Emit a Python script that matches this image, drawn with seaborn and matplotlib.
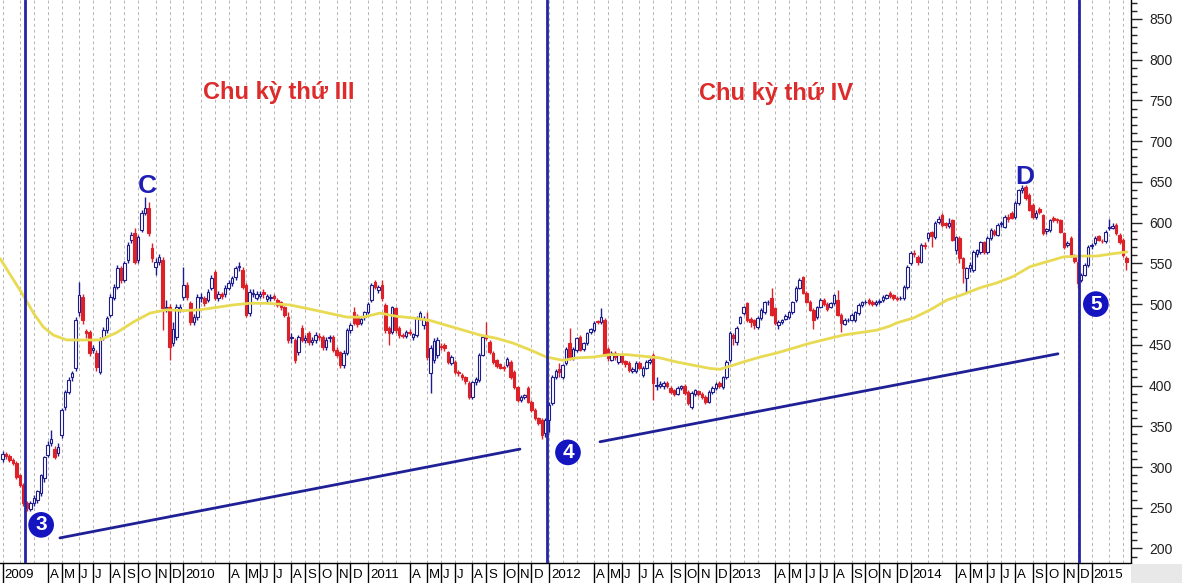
import numpy as np
import pandas as pd
import matplotlib
matplotlib.use('Agg')
import matplotlib.pyplot as plt
import matplotlib.transforms as mtransforms
from matplotlib.patches import Rectangle
from matplotlib.ticker import MultipleLocator
import seaborn as sns

# weekly candles, first week ending 2009-01-02
opens = [
    310, 316, 314, 309, 305, 290, 278, 256, 249, 256,
    260, 268, 286, 315, 330, 322, 317, 339, 374, 392,
    410, 421, 490, 509, 467, 466, 444, 440, 417, 460,
    468, 487, 508, 521, 544, 530, 554, 579, 587, 554,
    591, 612, 618, 569, 546, 552, 554, 495, 496, 452,
    460, 494, 509, 523, 501, 478, 484, 507, 507, 505,
    520, 539, 508, 512, 512, 520, 526, 533, 546, 542,
    523, 489, 513, 508, 510, 515, 506, 508, 510, 505,
    502, 496, 484, 458, 456, 441, 471, 456, 464, 454,
    456, 461, 460, 447, 458, 460, 444, 441, 425, 440,
    468, 490, 485, 477, 484, 490, 505, 527, 517, 523,
    499, 471, 466, 495, 471, 462, 461, 466, 460, 462,
    483, 474, 478, 415, 432, 437, 449, 450, 441, 428,
    429, 417, 413, 410, 403, 386, 404, 407, 438, 462,
    453, 440, 431, 426, 423, 425, 429, 417, 398, 382,
    386, 397, 380, 370, 360, 358, 342, 358, 379, 411,
    420, 411, 428, 452, 435, 444, 460, 445, 452, 466,
    468, 479, 478, 480, 445, 432, 440, 429, 438, 430,
    428, 418, 418, 428, 413, 422, 429, 437, 400, 400,
    400, 403, 397, 394, 390, 397, 400, 392, 374, 390,
    393, 390, 386, 380, 392, 397, 403, 398, 410, 431,
    462, 453, 477, 489, 501, 482, 480, 472, 483, 490,
    502, 507, 495, 474, 478, 482, 484, 490, 505, 520,
    533, 514, 503, 493, 484, 497, 505, 500, 497, 501,
    505, 487, 476, 480, 481, 480, 489, 499, 502, 505,
    503, 500, 502, 505, 508, 514, 511, 508, 507, 507,
    521, 550, 563, 558, 552, 573, 581, 588, 582, 601,
    609, 599, 596, 603, 566, 581, 556, 532, 544, 542,
    562, 564, 576, 564, 581, 590, 585, 598, 595, 607,
    612, 607, 624, 640, 644, 634, 622, 607, 617, 609,
    590, 591, 606, 604, 603, 587, 572, 581, 560, 552,
    530, 536, 548, 571, 575, 583, 578, 577, 593, 594,
    597, 585, 579, 557,
]
highs = [
    320, 319, 316, 311, 307, 292, 280, 258, 258, 266,
    272, 292, 314, 332, 346, 326, 330, 372, 394, 410,
    418, 484, 527, 512, 470, 468, 450, 444, 460, 472,
    486, 512, 525, 548, 547, 553, 576, 589, 593, 585,
    615, 631, 625, 575, 556, 562, 558, 505, 500, 478,
    500, 500, 546, 527, 504, 488, 512, 514, 510, 518,
    536, 542, 516, 515, 523, 530, 535, 547, 552, 545,
    526, 518, 518, 516, 516, 519, 513, 512, 513, 507,
    504, 498, 490, 464, 458, 462, 474, 462, 467, 460,
    466, 464, 462, 460, 462, 462, 447, 443, 444, 471,
    477, 496, 488, 485, 492, 502, 526, 530, 524, 530,
    501, 473, 498, 497, 473, 465, 468, 469, 465, 486,
    492, 485, 490, 450, 458, 460, 452, 452, 443, 437,
    431, 419, 415, 412, 405, 406, 410, 440, 462, 478,
    456, 442, 433, 428, 425, 435, 432, 419, 400, 389,
    390, 399, 382, 372, 362, 360, 360, 380, 413, 420,
    428, 427, 447, 471, 447, 460, 462, 454, 466, 471,
    479, 481, 495, 483, 447, 442, 442, 440, 440, 432,
    430, 423, 430, 430, 424, 431, 434, 440, 410, 405,
    406, 405, 400, 396, 399, 401, 402, 394, 393, 396,
    395, 392, 388, 394, 399, 404, 405, 412, 431, 467,
    464, 473, 486, 498, 503, 484, 482, 485, 495, 504,
    505, 520, 497, 480, 482, 488, 492, 504, 522, 532,
    535, 516, 505, 495, 498, 507, 508, 502, 503, 513,
    517, 489, 483, 483, 489, 492, 501, 504, 505, 507,
    505, 505, 506, 511, 513, 516, 513, 510, 510, 523,
    548, 565, 566, 560, 575, 576, 589, 590, 602, 608,
    612, 601, 606, 605, 584, 583, 558, 546, 552, 566,
    568, 578, 578, 583, 593, 592, 599, 602, 609, 610,
    614, 626, 641, 646, 646, 636, 624, 615, 619, 611,
    594, 605, 608, 606, 605, 589, 578, 583, 562, 555,
    538, 550, 572, 575, 584, 585, 580, 591, 605, 599,
    599, 587, 581, 559,
]
lows = [
    306, 310, 306, 302, 285, 275, 252, 246, 246, 252,
    256, 265, 282, 312, 326, 310, 314, 336, 370, 390,
    406, 418, 486, 476, 458, 436, 440, 418, 414, 456,
    465, 484, 505, 518, 526, 527, 550, 575, 549, 550,
    588, 609, 583, 552, 536, 548, 468, 490, 431, 448,
    456, 490, 505, 505, 474, 474, 480, 502, 498, 502,
    517, 505, 504, 506, 509, 517, 522, 530, 541, 518,
    484, 486, 509, 505, 507, 508, 503, 504, 505, 496,
    493, 484, 452, 452, 428, 438, 454, 452, 450, 450,
    452, 456, 444, 444, 454, 441, 435, 422, 422, 437,
    465, 474, 472, 474, 480, 488, 502, 518, 514, 504,
    465, 450, 463, 465, 459, 458, 458, 462, 456, 460,
    480, 470, 432, 391, 428, 434, 444, 443, 426, 425,
    414, 412, 407, 402, 384, 384, 401, 404, 436, 456,
    439, 427, 422, 420, 418, 423, 408, 396, 380, 380,
    384, 378, 368, 358, 352, 335, 337, 343, 376, 408,
    410, 408, 425, 432, 432, 441, 442, 443, 450, 463,
    466, 475, 476, 436, 430, 430, 432, 426, 427, 423,
    417, 415, 416, 420, 411, 420, 427, 382, 394, 397,
    396, 397, 390, 387, 388, 395, 389, 376, 371, 387,
    387, 384, 377, 378, 390, 395, 397, 396, 408, 429,
    450, 450, 475, 487, 478, 472, 470, 470, 481, 488,
    499, 485, 474, 470, 476, 480, 482, 488, 503, 518,
    512, 501, 491, 470, 482, 495, 498, 492, 495, 499,
    485, 466, 474, 478, 479, 478, 487, 497, 500, 499,
    498, 498, 500, 503, 506, 508, 505, 504, 505, 505,
    519, 548, 558, 548, 550, 568, 578, 570, 580, 598,
    595, 594, 593, 577, 562, 550, 526, 514, 540, 540,
    558, 562, 562, 562, 579, 584, 583, 595, 593, 601,
    604, 605, 622, 637, 628, 614, 605, 604, 611, 585,
    586, 589, 601, 600, 587, 568, 570, 558, 550, 520,
    527, 534, 546, 568, 572, 577, 575, 575, 591, 592,
    585, 574, 558, 542,
]
closes = [
    316, 314, 309, 305, 288, 278, 256, 250, 256, 262,
    270, 290, 312, 327, 334, 312, 325, 370, 392, 407,
    415, 480, 511, 480, 464, 440, 446, 423, 456, 468,
    483, 509, 521, 544, 530, 550, 573, 585, 552, 582,
    612, 618, 587, 557, 552, 558, 495, 497, 447, 470,
    496, 496, 523, 509, 478, 484, 509, 509, 501, 515,
    532, 508, 512, 510, 520, 526, 532, 544, 546, 521,
    487, 515, 513, 513, 513, 512, 510, 508, 508, 499,
    496, 487, 456, 460, 431, 460, 456, 458, 453, 456,
    462, 460, 447, 456, 460, 444, 438, 425, 440, 468,
    474, 477, 476, 482, 490, 500, 523, 521, 521, 507,
    468, 464, 496, 468, 462, 461, 466, 465, 463, 483,
    489, 482, 435, 446, 455, 456, 447, 446, 429, 435,
    417, 415, 410, 405, 386, 404, 408, 438, 460, 458,
    441, 429, 424, 422, 421, 433, 410, 398, 382, 386,
    388, 380, 370, 360, 354, 339, 358, 376, 411, 418,
    417, 425, 445, 434, 445, 458, 444, 452, 464, 469,
    477, 478, 484, 438, 434, 440, 435, 438, 429, 426,
    419, 420, 428, 422, 422, 429, 432, 403, 401, 402,
    403, 400, 392, 390, 397, 399, 391, 379, 391, 394,
    390, 386, 380, 392, 397, 402, 400, 410, 429, 465,
    458, 471, 484, 496, 480, 478, 474, 483, 493, 502,
    503, 487, 477, 478, 480, 486, 490, 502, 520, 530,
    514, 503, 493, 480, 496, 505, 500, 494, 501, 511,
    487, 477, 481, 481, 487, 490, 499, 502, 503, 501,
    500, 503, 504, 509, 511, 510, 507, 506, 508, 521,
    546, 563, 562, 552, 573, 571, 587, 583, 600, 605,
    597, 597, 600, 579, 582, 556, 544, 544, 548, 564,
    566, 576, 564, 581, 591, 586, 597, 600, 607, 604,
    606, 624, 640, 643, 630, 616, 607, 612, 613, 587,
    592, 603, 603, 603, 589, 570, 575, 560, 553, 526,
    536, 548, 570, 573, 581, 579, 577, 589, 595, 596,
    587, 576, 560, 552,
]

# yellow moving average, read at bar positions
ma_pos = [-0.7, 6.5, 8.9, 11.7, 14.6, 18.4, 23.2, 28, 32.8, 37.6, 42.4, 47.2,
          52, 56.7, 61.5, 66.3, 71.1, 75.9, 82.6, 89.3, 99, 103.7, 108.5,
          113.3, 118, 122.8, 127.6, 132.4, 137.2, 142, 146.8, 151.5, 156.3,
          161.1, 165, 169.8, 174.6, 179.4, 184.1, 188.9, 193.7, 198.5, 203.3,
          206.2, 210, 212.9, 217.7, 222.5, 227.3, 232, 236.8, 241.6, 246.4,
          251.2, 255, 257, 261.8, 266.6, 271.4, 276.1, 280.9, 285.7, 290.5,
          295.3, 300.1, 304.9, 309.7, 314.5, 319.3, 323.1]
ma_vals = [556, 507, 489, 472, 462, 456, 456, 456, 465, 478, 489, 493,
           492, 493, 496, 499, 501, 501, 499, 493, 484, 484, 489,
           485, 483, 480, 474, 468, 462, 458, 452, 444, 435,
           431, 434, 435, 438, 438, 436, 434, 429, 425, 421,
           420, 425, 429, 435, 440, 446, 452, 457, 462, 465,
           468, 473, 477, 483, 493, 505, 512, 520, 526, 534,
           546, 552, 558, 559, 559, 562, 564]

cycle_bars = [6.5, 156.5, 309.3]
trend_x0 = [16.5, 171.7]
trend_y0 = [213, 331]
trend_x1 = [148.7, 303.3]
trend_y1 = [322, 439]

cycle_titles = ['Chu kỳ thứ III', 'Chu kỳ thứ IV']
cycle_title_x = [79.5, 222.3]
cycle_title_y = [760, 758]
peak_labels = ['C', 'D']
peak_x = [41.5, 293.8]
peak_y = [645, 656]
wave_labels = ['3', '4', '5']
wave_x = [11.1, 162.5, 314.2]
wave_y = [229, 318, 500]

NAVY = '#1c1c8c'
RED = '#dc2128'
BLUE = '#1e1eb4'

sns.set_style('white')
plt.rcParams['font.family'] = ['Liberation Sans', 'DejaVu Sans']

fig = plt.figure(figsize=(11.82, 5.83), dpi=100)
ax = fig.add_axes([0, 20 / 583, 1131 / 1182, 563 / 583])

n = len(closes)
x = np.arange(n)
o = np.array(opens, dtype=float)
c = np.array(closes, dtype=float)
h = np.array(highs, dtype=float)
l = np.array(lows, dtype=float)
up = c >= o

dates = pd.date_range('2009-01-02', periods=n, freq='W-FRI')
month_start = [i for i in range(n) if i == 0 or dates[i].month != dates[i - 1].month]

# monthly dashed grid
for s in month_start:
    ax.axvline(s, color='#b4b4b4', lw=0.7, ls=(0, (3, 3)), zorder=0)

# candles
wick_cols = [NAVY if u else RED for u in up]
ax.vlines(x, l, h, colors=wick_cols, linewidth=1, zorder=2)
body_bottom = np.minimum(o, c)
body_h = np.maximum(np.abs(c - o), 1.0)
ax.bar(x, body_h, bottom=body_bottom, width=0.72,
       color=['white' if u else RED for u in up],
       edgecolor=[NAVY if u else RED for u in up], linewidth=0.8, zorder=3)

sns.lineplot(x=ma_pos, y=ma_vals, color='#e8da52', lw=2, sort=False, ax=ax, zorder=4)

for b in cycle_bars:
    ax.axvline(b, color='#2424a6', lw=2, zorder=5)
for i in range(len(trend_x0)):
    ax.plot([trend_x0[i], trend_x1[i]], [trend_y0[i], trend_y1[i]],
            color='#1f1f96', lw=2, zorder=5)

for t, tx, ty in zip(cycle_titles, cycle_title_x, cycle_title_y):
    ax.text(tx, ty, t, color='#dd2a2a', fontsize=17, fontweight='bold',
            ha='center', va='center', zorder=6)
for t, tx, ty in zip(peak_labels, peak_x, peak_y):
    ax.text(tx, ty, t, color=BLUE, fontsize=19, fontweight='bold',
            ha='center', va='center', zorder=6)
for t, tx, ty in zip(wave_labels, wave_x, wave_y):
    ax.text(tx, ty, t, color='white', fontsize=15, fontweight='bold',
            ha='center', va='center', zorder=6,
            bbox=dict(boxstyle='circle,pad=0.16', fc='#1414c0', ec='none'))

ax.set_xlim(-0.72, 324.3)
ax.set_ylim(182.2, 873.3)
ax.set_xlabel('')
ax.set_ylabel('')

# x ticks: first bar of each month, Feb/Mar left blank
tick_pos, tick_lbl = [], []
for s in month_start:
    m = dates[s].month
    if m in (2, 3):
        continue
    tick_pos.append(s)
    tick_lbl.append(str(dates[s].year) if m == 1 else 'JFMAMJJASOND'[m - 1])
ax.set_xticks(tick_pos, labels=tick_lbl)
ax.tick_params(axis='x', direction='out', length=19, width=1, pad=-15,
               labelsize=9.5, colors='black', bottom=True)
shift = mtransforms.ScaledTranslation(2 / 100, 0, fig.dpi_scale_trans)
for lab in ax.get_xticklabels():
    lab.set_horizontalalignment('left')
    lab.set_transform(lab.get_transform() + shift)

ax.yaxis.tick_right()
ax.set_yticks(range(200, 851, 50))
ax.yaxis.set_minor_locator(MultipleLocator(10))
ax.tick_params(axis='y', which='major', direction='out', length=8, width=1,
               pad=5, labelsize=10, labelcolor='#222222', right=True)
ax.tick_params(axis='y', which='minor', direction='out', length=4, width=1, right=True)

for side in ('left', 'top'):
    ax.spines[side].set_visible(False)
for side in ('right', 'bottom'):
    ax.spines[side].set_color('black')
    ax.spines[side].set_linewidth(1)
ax.grid(False)

fig.patches.append(Rectangle((1131 / 1182, 0), 1 - 1131 / 1182, 19 / 583,
                             transform=fig.transFigure, fc='#e8e8e8', ec='none'))

fig.savefig('out.png', dpi=100)
